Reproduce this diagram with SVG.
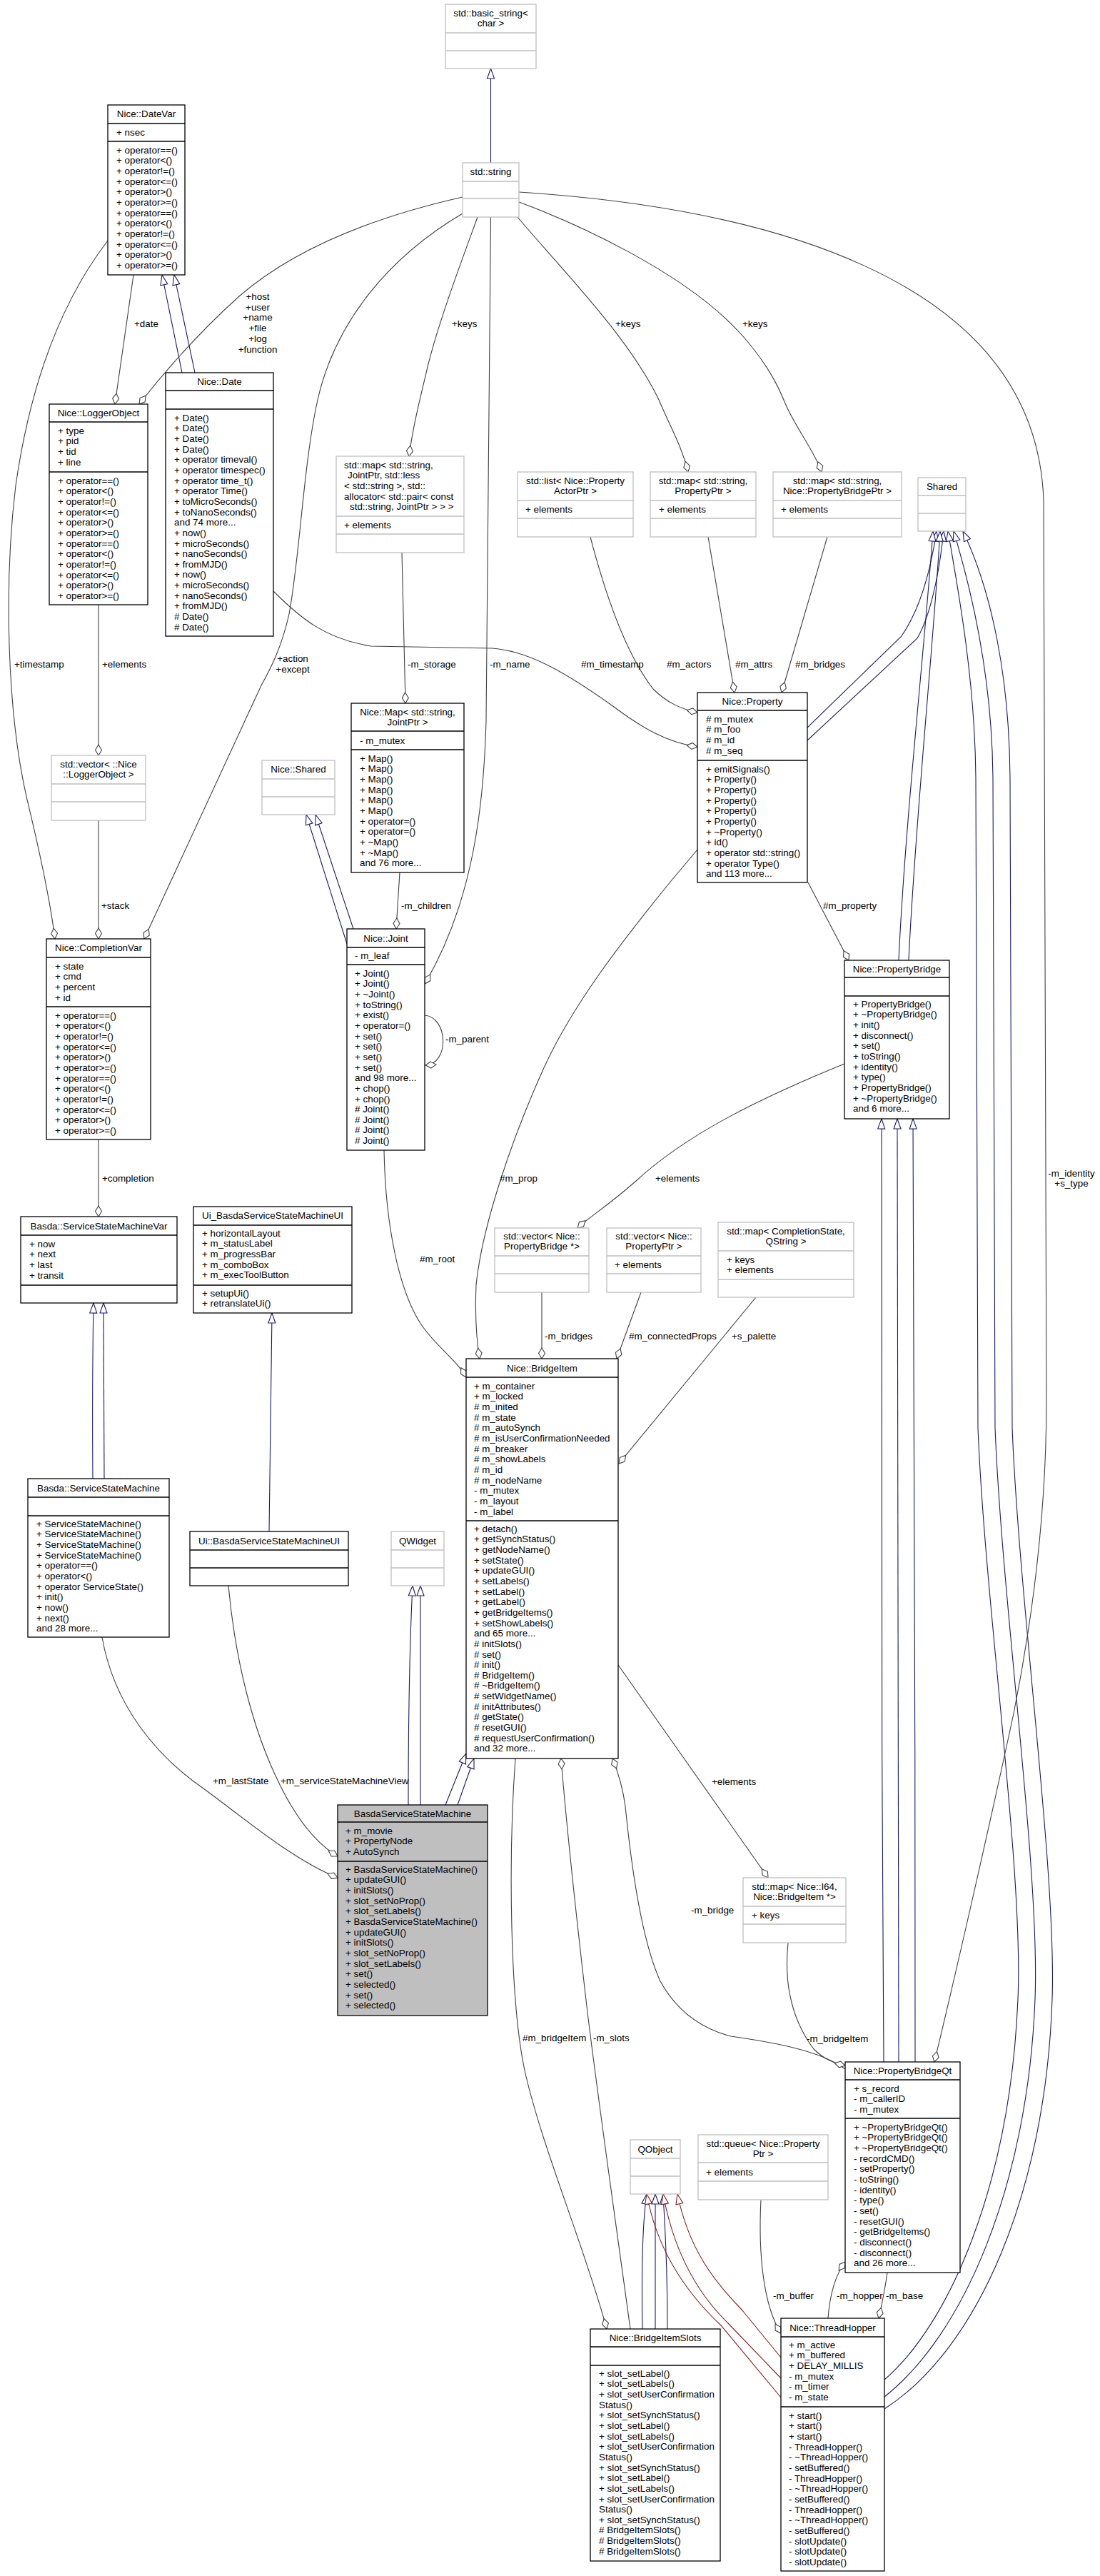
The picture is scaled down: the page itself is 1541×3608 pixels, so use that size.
<svg xmlns="http://www.w3.org/2000/svg" width="1541" height="3608" viewBox="0 0 1541 3608">
<defs>
<style>
text{font-family:"Liberation Sans",Arial,Helvetica,sans-serif;font-size:13.4px;fill:#000}
.c{text-anchor:middle}
.n rect{fill:#fff;stroke:#000;stroke-width:1.3}
.n line{stroke:#000;stroke-width:1.3}
.u rect{fill:#fff;stroke:#bfbfbf;stroke-width:1.3}
.u line{stroke:#bfbfbf;stroke-width:1.3}
.g rect{fill:#bfbfbf}
.e{fill:none;stroke:#404040;stroke-width:1.1;marker-end:url(#dm)}
.i{fill:none;stroke:#191970;stroke-width:1.1;marker-end:url(#tb)}
.p{fill:none;stroke:#8b1a1a;stroke-width:1.1;marker-end:url(#tr)}
</style>
<marker id="dm" markerUnits="userSpaceOnUse" markerWidth="17" markerHeight="11" viewBox="0 0 17 11" refX="16" refY="5.5" orient="auto"><path d="M1,5.5 L8.5,1 L16,5.5 L8.5,10 Z" fill="#fff" stroke="#404040" stroke-width="1.1"/></marker>
<marker id="tb" markerUnits="userSpaceOnUse" markerWidth="16" markerHeight="12" viewBox="0 0 16 12" refX="15" refY="6" orient="auto"><path d="M1,1 L15,6 L1,11 Z" fill="#fff" stroke="#191970" stroke-width="1.1"/></marker>
<marker id="tr" markerUnits="userSpaceOnUse" markerWidth="16" markerHeight="12" viewBox="0 0 16 12" refX="15" refY="6" orient="auto"><path d="M1,1 L15,6 L1,11 Z" fill="#fff" stroke="#8b1a1a" stroke-width="1.1"/></marker>
</defs>
<rect x="0" y="0" width="1541" height="3608" fill="#fff"/>
<g id="connectors">
<path class="i" d="M687.5,228 L687.5,96"/>
<path class="i" d="M255,522 L227,385"/>
<path class="i" d="M273,522 L244,385"/>
<path class="i" d="M486,1322 L429,1141"/>
<path class="i" d="M495,1301 L442,1141"/>
<path class="e" d="M187,385 L161,566"/>
<path class="e" d="M648,276 C520,305 410,350 335,415 C285,460 235,515 195,566"/>
<path class="e" d="M138,847 L138,1058"/>
<path class="e" d="M151,337 C95,410 45,520 22,680 C5,820 10,1000 38,1120 C55,1190 70,1260 77,1315"/>
<path class="e" d="M138,1149 L138,1315"/>
<path class="e" d="M648,299 C545,360 470,450 445,560 C425,650 420,780 405,860 C395,905 380,935 366,960 L202,1315"/>
<path class="e" d="M669,304 C645,370 615,450 600,510 C588,560 578,600 573,639"/>
<path class="e" d="M725,304 C780,370 880,470 923,560 C940,600 955,625 964,661"/>
<path class="e" d="M727,283 C800,310 960,380 1040,470 C1075,510 1090,540 1100,565 C1115,600 1140,630 1151,661"/>
<path class="e" d="M563,774 L568,985"/>
<path class="e" d="M687.5,304 L681,1010 C678,1120 665,1260 595,1378"/>
<path class="e" d="M560,1222 L555,1301"/>
<path class="e" d="M595,1422 C628,1425 630,1490 596,1492"/>
<path class="e" d="M383,828 C420,865 455,895 520,905 L690,908 C740,912 790,940 860,990 C900,1020 935,1040 977,1046"/>
<path class="e" d="M827,752 C850,840 880,920 915,965 C935,985 955,993 977,998"/>
<path class="e" d="M992,752 L1029,970"/>
<path class="e" d="M1159,752 L1095,970"/>
<path class="e" d="M1132,1236 L1189,1345"/>
<path class="i" d="M1131,1019 L1262,892 C1285,860 1302,810 1312,744"/>
<path class="i" d="M1131,1037 L1285,894 C1302,865 1315,810 1322,744"/>
<path class="i" d="M1259,1345 C1268,1150 1296,900 1307,744"/>
<path class="i" d="M1273,1345 C1282,1150 1308,900 1317,744"/>
<path class="i" d="M1239,3333 C1330,3255 1415,3060 1426,2800 C1434,2620 1380,2250 1370,2000 L1367,1090 C1366,960 1345,840 1328,744"/>
<path class="i" d="M1239,3357 C1350,3270 1440,3060 1450,2800 C1457,2620 1404,2250 1394,2000 L1391,1090 C1390,960 1365,840 1336,744"/>
<path class="i" d="M1239,3374 C1370,3290 1465,3070 1474,2800 C1480,2620 1428,2250 1418,2000 L1415,1090 C1414,950 1390,830 1349,744"/>
<path class="e" d="M727,269 C1050,290 1450,380 1462,700 L1466,1960 C1466,2100 1450,2250 1420,2400 C1390,2540 1340,2760 1309,2888"/>
<path class="e" d="M977,1190 L940,1234 C870,1320 800,1410 760,1500 C715,1600 675,1720 667,1800 C665,1850 668,1880 672,1903"/>
<path class="e" d="M1183,1490 C1060,1540 960,1590 890,1655 C850,1690 825,1705 809,1720"/>
<path class="e" d="M759,1810 L759,1903"/>
<path class="e" d="M898,1810 L864,1903"/>
<path class="e" d="M1059,1817 L867,2050"/>
<path class="e" d="M538,1611 C540,1720 560,1810 590,1855 C610,1885 640,1905 653,1929"/>
<path class="e" d="M138,1596 L138,1704"/>
<path class="i" d="M130,2071 C129,1950 130,1880 131,1825"/>
<path class="i" d="M146,2071 C146,1950 145,1880 145,1825"/>
<path class="i" d="M377,2145 L381,1839"/>
<path class="i" d="M572,2528 C572,2350 576,2260 578,2221"/>
<path class="i" d="M589,2528 L589,2221"/>
<path class="i" d="M624,2528 L653,2456"/>
<path class="i" d="M641,2528 L664,2463"/>
<path class="e" d="M320,2221 C330,2330 355,2420 385,2485 C410,2540 440,2580 473,2600"/>
<path class="e" d="M143,2293 C160,2390 220,2460 285,2505 C340,2545 410,2605 473,2630"/>
<path class="e" d="M866,2332 L1076,2630"/>
<path class="e" d="M1184,2898 C1150,2872 1080,2860 1024,2852 C985,2842 950,2820 925,2775 C900,2720 885,2620 876,2530 C872,2500 865,2480 858,2463"/>
<path class="e" d="M1104,2721 C1098,2780 1110,2830 1140,2870 C1155,2885 1170,2890 1184,2893"/>
<path class="i" d="M1238,2888 C1235,2400 1232,1700 1235,1567"/>
<path class="i" d="M1259,2888 L1257,1567"/>
<path class="i" d="M1282,2888 C1282,2400 1281,1700 1279,1567"/>
<path class="e" d="M722,2463 C712,2600 714,2800 735,2900 C760,3010 820,3150 850,3262"/>
<path class="e" d="M883,3262 C865,3130 835,2920 822,2810 C808,2690 793,2550 786,2463"/>
<path class="i" d="M900,3262 C898,3150 902,3100 906,3073"/>
<path class="i" d="M918,3262 L918,3073"/>
<path class="i" d="M935,3262 C935,3150 930,3100 929,3073"/>
<path class="p" d="M1094,3302 L1040,3236 C1000,3195 965,3150 949,3073"/>
<path class="p" d="M1094,3331 L1020,3254 C980,3215 945,3160 929,3073"/>
<path class="p" d="M1094,3358 L1010,3257 C960,3210 920,3150 906,3073"/>
<path class="e" d="M1066,3081 C1062,3160 1070,3230 1094,3268"/>
<path class="e" d="M1160,3247 C1162,3220 1168,3190 1184,3168"/>
<path class="e" d="M1243,3183 C1240,3205 1236,3225 1231,3247"/>
<text x="188" y="457.7">+date</text>
<text class="c" x="361" y="419.7">+host<tspan x="361" dy="14.8">+user</tspan><tspan x="361" dy="14.8">+name</tspan><tspan x="361" dy="14.8">+file</tspan><tspan x="361" dy="14.8">+log</tspan><tspan x="361" dy="14.8">+function</tspan></text>
<text x="633" y="457.7">+keys</text>
<text x="862" y="457.7">+keys</text>
<text x="1040" y="457.7">+keys</text>
<text x="20" y="934.7">+timestamp</text>
<text x="143" y="934.7">+elements</text>
<text class="c" x="410" y="927.2">+action<tspan x="410" dy="14.6">+except</tspan></text>
<text x="571" y="934.7">-m_storage</text>
<text x="686" y="934.7">-m_name</text>
<text x="814" y="934.7">#m_timestamp</text>
<text x="934" y="934.7">#m_actors</text>
<text x="1030" y="934.7">#m_attrs</text>
<text x="1114" y="934.7">#m_bridges</text>
<text x="142" y="1272.7">+stack</text>
<text x="562" y="1272.7">-m_children</text>
<text x="1153" y="1272.7">#m_property</text>
<text x="624" y="1459.7">-m_parent</text>
<text class="c" x="1501" y="1647.7">-m_identity<tspan x="1501" dy="14.6">+s_type</tspan></text>
<text x="143" y="1654.7">+completion</text>
<text x="700" y="1654.7">#m_prop</text>
<text x="918" y="1654.7">+elements</text>
<text x="588" y="1767.7">#m_root</text>
<text x="763" y="1875.7">-m_bridges</text>
<text x="881" y="1875.7">#m_connectedProps</text>
<text x="1025" y="1875.7">+s_palette</text>
<text x="298" y="2498.7">+m_lastState</text>
<text x="393" y="2498.7">+m_serviceStateMachineView</text>
<text x="997" y="2499.7">+elements</text>
<text x="968" y="2679.7">-m_bridge</text>
<text x="732" y="2858.7">#m_bridgeItem</text>
<text x="831" y="2858.7">-m_slots</text>
<text x="1130" y="2859.7">-m_bridgeItem</text>
<text x="1083" y="3219.7">-m_buffer</text>
<text x="1172" y="3219.7">-m_hopper</text>
<text x="1241" y="3219.7">-m_base</text>
</g>
<g id="nodes">
<g id="n_basic_string" class="u"><rect x="624" y="6" width="127" height="90"/><line x1="624" y1="46" x2="751" y2="46"/><line x1="624" y1="71" x2="751" y2="71"/><text class="c" x="687.5" y="22.7">std::basic_string&lt;<tspan x="687.5" dy="14.7">char &gt;</tspan></text></g>
<g id="n_string" class="u"><rect x="648" y="228" width="79" height="76"/><line x1="648" y1="254" x2="727" y2="254"/><line x1="648" y1="278" x2="727" y2="278"/><text class="c" x="687.5" y="245">std::string</text></g>
<g id="n_datevar" class="n"><rect x="151" y="147" width="108" height="238"/><line x1="151" y1="173" x2="259" y2="173"/><line x1="151" y1="198" x2="259" y2="198"/><text class="c" x="205" y="164">Nice::DateVar</text><text x="163" y="189.7">+ nsec</text><text x="163" y="214.7">+ operator==()<tspan x="163" dy="14.65">+ operator&lt;()</tspan><tspan x="163" dy="14.65">+ operator!=()</tspan><tspan x="163" dy="14.65">+ operator&lt;=()</tspan><tspan x="163" dy="14.65">+ operator&gt;()</tspan><tspan x="163" dy="14.65">+ operator&gt;=()</tspan><tspan x="163" dy="14.65">+ operator==()</tspan><tspan x="163" dy="14.65">+ operator&lt;()</tspan><tspan x="163" dy="14.65">+ operator!=()</tspan><tspan x="163" dy="14.65">+ operator&lt;=()</tspan><tspan x="163" dy="14.65">+ operator&gt;()</tspan><tspan x="163" dy="14.65">+ operator&gt;=()</tspan></text></g>
<g id="n_loggerobject" class="n"><rect x="69" y="566" width="138" height="281"/><line x1="69" y1="591" x2="207" y2="591"/><line x1="69" y1="661" x2="207" y2="661"/><text class="c" x="138" y="583">Nice::LoggerObject</text><text x="81" y="607.7">+ type<tspan x="81" dy="14.65">+ pid</tspan><tspan x="81" dy="14.65">+ tid</tspan><tspan x="81" dy="14.65">+ line</tspan></text><text x="81" y="677.7">+ operator==()<tspan x="81" dy="14.65">+ operator&lt;()</tspan><tspan x="81" dy="14.65">+ operator!=()</tspan><tspan x="81" dy="14.65">+ operator&lt;=()</tspan><tspan x="81" dy="14.65">+ operator&gt;()</tspan><tspan x="81" dy="14.65">+ operator&gt;=()</tspan><tspan x="81" dy="14.65">+ operator==()</tspan><tspan x="81" dy="14.65">+ operator&lt;()</tspan><tspan x="81" dy="14.65">+ operator!=()</tspan><tspan x="81" dy="14.65">+ operator&lt;=()</tspan><tspan x="81" dy="14.65">+ operator&gt;()</tspan><tspan x="81" dy="14.65">+ operator&gt;=()</tspan></text></g>
<g id="n_date" class="n"><rect x="232" y="522" width="151" height="369"/><line x1="232" y1="547" x2="383" y2="547"/><line x1="232" y1="573" x2="383" y2="573"/><text class="c" x="307.5" y="539">Nice::Date</text><text x="244" y="589.7">+ Date()<tspan x="244" dy="14.65">+ Date()</tspan><tspan x="244" dy="14.65">+ Date()</tspan><tspan x="244" dy="14.65">+ Date()</tspan><tspan x="244" dy="14.65">+ operator timeval()</tspan><tspan x="244" dy="14.65">+ operator timespec()</tspan><tspan x="244" dy="14.65">+ operator time_t()</tspan><tspan x="244" dy="14.65">+ operator Time()</tspan><tspan x="244" dy="14.65">+ toMicroSeconds()</tspan><tspan x="244" dy="14.65">+ toNanoSeconds()</tspan><tspan x="244" dy="14.65">and 74 more...</tspan><tspan x="244" dy="14.65">+ now()</tspan><tspan x="244" dy="14.65">+ microSeconds()</tspan><tspan x="244" dy="14.65">+ nanoSeconds()</tspan><tspan x="244" dy="14.65">+ fromMJD()</tspan><tspan x="244" dy="14.65">+ now()</tspan><tspan x="244" dy="14.65">+ microSeconds()</tspan><tspan x="244" dy="14.65">+ nanoSeconds()</tspan><tspan x="244" dy="14.65">+ fromMJD()</tspan><tspan x="244" dy="14.65"># Date()</tspan><tspan x="244" dy="14.65"># Date()</tspan></text></g>
<g id="n_map_joint" class="u"><rect x="471" y="639" width="179" height="135"/><line x1="471" y1="723" x2="650" y2="723"/><line x1="471" y1="748" x2="650" y2="748"/><text x="482" y="655.7">std::map&lt; std::string,</text><text x="487" y="670.4">JointPtr, std::less</text><text x="482" y="685">&lt; std::string &gt;, std::</text><text x="482" y="699.7">allocator&lt; std::pair&lt; const</text><text x="490" y="714.3">std::string, JointPtr &gt; &gt; &gt;</text><text x="482" y="739.7">+ elements</text></g>
<g id="n_list_actor" class="u"><rect x="725" y="661" width="162" height="91"/><line x1="725" y1="701" x2="887" y2="701"/><line x1="725" y1="726" x2="887" y2="726"/><text class="c" x="806" y="677.7">std::list&lt; Nice::Property<tspan x="806" dy="14.65">ActorPtr &gt;</tspan></text><text x="736" y="717.7">+ elements</text></g>
<g id="n_map_propptr" class="u"><rect x="911" y="661" width="148" height="91"/><line x1="911" y1="701" x2="1059" y2="701"/><line x1="911" y1="726" x2="1059" y2="726"/><text class="c" x="985" y="677.7">std::map&lt; std::string,<tspan x="985" dy="14.65">PropertyPtr &gt;</tspan></text><text x="923" y="717.7">+ elements</text></g>
<g id="n_map_pbptr" class="u"><rect x="1083" y="661" width="180" height="91"/><line x1="1083" y1="701" x2="1263" y2="701"/><line x1="1083" y1="726" x2="1263" y2="726"/><text class="c" x="1173" y="677.7">std::map&lt; std::string,<tspan x="1173" dy="14.65">Nice::PropertyBridgePtr &gt;</tspan></text><text x="1094" y="717.7">+ elements</text></g>
<g id="n_shared" class="u"><rect x="1286" y="669" width="67" height="75"/><line x1="1286" y1="694" x2="1353" y2="694"/><line x1="1286" y1="719" x2="1353" y2="719"/><text class="c" x="1319.5" y="686">Shared</text></g>
<g id="n_nice_map" class="n"><rect x="492" y="985" width="158" height="237"/><line x1="492" y1="1024" x2="650" y2="1024"/><line x1="492" y1="1050" x2="650" y2="1050"/><text class="c" x="571" y="1001.7">Nice::Map&lt; std::string,<tspan x="571" dy="14.65">JointPtr &gt;</tspan></text><text x="504" y="1041.7">- m_mutex</text><text x="504" y="1066.7">+ Map()<tspan x="504" dy="14.65">+ Map()</tspan><tspan x="504" dy="14.65">+ Map()</tspan><tspan x="504" dy="14.65">+ Map()</tspan><tspan x="504" dy="14.65">+ Map()</tspan><tspan x="504" dy="14.65">+ Map()</tspan><tspan x="504" dy="14.65">+ operator=()</tspan><tspan x="504" dy="14.65">+ operator=()</tspan><tspan x="504" dy="14.65">+ ~Map()</tspan><tspan x="504" dy="14.65">+ ~Map()</tspan><tspan x="504" dy="14.65">and 76 more...</tspan></text></g>
<g id="n_nice_shared" class="u"><rect x="367" y="1065" width="102" height="76"/><line x1="367" y1="1091" x2="469" y2="1091"/><line x1="367" y1="1116" x2="469" y2="1116"/><text class="c" x="418" y="1082">Nice::Shared</text></g>
<g id="n_property" class="n"><rect x="977" y="970" width="154" height="266"/><line x1="977" y1="995" x2="1131" y2="995"/><line x1="977" y1="1065" x2="1131" y2="1065"/><text class="c" x="1054" y="987">Nice::Property</text><text x="989" y="1011.7"># m_mutex<tspan x="989" dy="14.65"># m_foo</tspan><tspan x="989" dy="14.65"># m_id</tspan><tspan x="989" dy="14.65"># m_seq</tspan></text><text x="989" y="1081.7">+ emitSignals()<tspan x="989" dy="14.65">+ Property()</tspan><tspan x="989" dy="14.65">+ Property()</tspan><tspan x="989" dy="14.65">+ Property()</tspan><tspan x="989" dy="14.65">+ Property()</tspan><tspan x="989" dy="14.65">+ Property()</tspan><tspan x="989" dy="14.65">+ ~Property()</tspan><tspan x="989" dy="14.65">+ id()</tspan><tspan x="989" dy="14.65">+ operator std::string()</tspan><tspan x="989" dy="14.65">+ operator Type()</tspan><tspan x="989" dy="14.65">and 113 more...</tspan></text></g>
<g id="n_vec_logger" class="u"><rect x="72" y="1058" width="132" height="91"/><line x1="72" y1="1098" x2="204" y2="1098"/><line x1="72" y1="1123" x2="204" y2="1123"/><text class="c" x="138" y="1074.7">std::vector&lt; ::Nice<tspan x="138" dy="14.65">::LoggerObject &gt;</tspan></text></g>
<g id="n_joint" class="n"><rect x="486" y="1301" width="109" height="310"/><line x1="486" y1="1327" x2="595" y2="1327"/><line x1="486" y1="1351" x2="595" y2="1351"/><text class="c" x="540.5" y="1318.5">Nice::Joint</text><text x="497" y="1343">- m_leaf</text><text x="497" y="1367.7">+ Joint()<tspan x="497" dy="14.65">+ Joint()</tspan><tspan x="497" dy="14.65">+ ~Joint()</tspan><tspan x="497" dy="14.65">+ toString()</tspan><tspan x="497" dy="14.65">+ exist()</tspan><tspan x="497" dy="14.65">+ operator=()</tspan><tspan x="497" dy="14.65">+ set()</tspan><tspan x="497" dy="14.65">+ set()</tspan><tspan x="497" dy="14.65">+ set()</tspan><tspan x="497" dy="14.65">+ set()</tspan><tspan x="497" dy="14.65">and 98 more...</tspan><tspan x="497" dy="14.65">+ chop()</tspan><tspan x="497" dy="14.65">+ chop()</tspan><tspan x="497" dy="14.65"># Joint()</tspan><tspan x="497" dy="14.65"># Joint()</tspan><tspan x="497" dy="14.65"># Joint()</tspan><tspan x="497" dy="14.65"># Joint()</tspan></text></g>
<g id="n_completionvar" class="n"><rect x="65" y="1315" width="146" height="281"/><line x1="65" y1="1341" x2="211" y2="1341"/><line x1="65" y1="1410" x2="211" y2="1410"/><text class="c" x="138" y="1332">Nice::CompletionVar</text><text x="77" y="1357.7">+ state<tspan x="77" dy="14.65">+ cmd</tspan><tspan x="77" dy="14.65">+ percent</tspan><tspan x="77" dy="14.65">+ id</tspan></text><text x="77" y="1426.7">+ operator==()<tspan x="77" dy="14.65">+ operator&lt;()</tspan><tspan x="77" dy="14.65">+ operator!=()</tspan><tspan x="77" dy="14.65">+ operator&lt;=()</tspan><tspan x="77" dy="14.65">+ operator&gt;()</tspan><tspan x="77" dy="14.65">+ operator&gt;=()</tspan><tspan x="77" dy="14.65">+ operator==()</tspan><tspan x="77" dy="14.65">+ operator&lt;()</tspan><tspan x="77" dy="14.65">+ operator!=()</tspan><tspan x="77" dy="14.65">+ operator&lt;=()</tspan><tspan x="77" dy="14.65">+ operator&gt;()</tspan><tspan x="77" dy="14.65">+ operator&gt;=()</tspan></text></g>
<g id="n_propertybridge" class="n"><rect x="1183" y="1345" width="147" height="222"/><line x1="1183" y1="1369" x2="1330" y2="1369"/><line x1="1183" y1="1395" x2="1330" y2="1395"/><text class="c" x="1256.5" y="1361.5">Nice::PropertyBridge</text><text x="1195" y="1410.7">+ PropertyBridge()<tspan x="1195" dy="14.65">+ ~PropertyBridge()</tspan><tspan x="1195" dy="14.65">+ init()</tspan><tspan x="1195" dy="14.65">+ disconnect()</tspan><tspan x="1195" dy="14.65">+ set()</tspan><tspan x="1195" dy="14.65">+ toString()</tspan><tspan x="1195" dy="14.65">+ identity()</tspan><tspan x="1195" dy="14.65">+ type()</tspan><tspan x="1195" dy="14.65">+ PropertyBridge()</tspan><tspan x="1195" dy="14.65">+ ~PropertyBridge()</tspan><tspan x="1195" dy="14.65">and 6 more...</tspan></text></g>
<g id="n_ssmvar" class="n"><rect x="29" y="1704" width="219" height="121"/><line x1="29" y1="1730" x2="248" y2="1730"/><line x1="29" y1="1800" x2="248" y2="1800"/><text class="c" x="138.5" y="1721.7">Basda::ServiceStateMachineVar</text><text x="41" y="1746.7">+ now<tspan x="41" dy="14.65">+ next</tspan><tspan x="41" dy="14.65">+ last</tspan><tspan x="41" dy="14.65">+ transit</tspan></text></g>
<g id="n_ui_basda" class="n"><rect x="271" y="1690" width="222" height="149"/><line x1="271" y1="1716" x2="493" y2="1716"/><line x1="271" y1="1800" x2="493" y2="1800"/><text class="c" x="382" y="1707">Ui_BasdaServiceStateMachineUI</text><text x="283" y="1731.7">+ horizontalLayout<tspan x="283" dy="14.65">+ m_statusLabel</tspan><tspan x="283" dy="14.65">+ m_progressBar</tspan><tspan x="283" dy="14.65">+ m_comboBox</tspan><tspan x="283" dy="14.65">+ m_execToolButton</tspan></text><text x="283" y="1815.7">+ setupUi()<tspan x="283" dy="14.65">+ retranslateUi()</tspan></text></g>
<g id="n_vec_pb" class="u"><rect x="693" y="1720" width="132" height="90"/><line x1="693" y1="1759" x2="825" y2="1759"/><line x1="693" y1="1784" x2="825" y2="1784"/><text class="c" x="759" y="1735.7">std::vector&lt; Nice::<tspan x="759" dy="14.65">PropertyBridge *&gt;</tspan></text></g>
<g id="n_vec_pp" class="u"><rect x="850" y="1720" width="132" height="90"/><line x1="850" y1="1759" x2="982" y2="1759"/><line x1="850" y1="1784" x2="982" y2="1784"/><text class="c" x="916" y="1735.7">std::vector&lt; Nice::<tspan x="916" dy="14.65">PropertyPtr &gt;</tspan></text><text x="861" y="1775.7">+ elements</text></g>
<g id="n_map_cs" class="u"><rect x="1006" y="1712" width="190" height="105"/><line x1="1006" y1="1752" x2="1196" y2="1752"/><line x1="1006" y1="1792" x2="1196" y2="1792"/><text class="c" x="1101" y="1728.7">std::map&lt; CompletionState,<tspan x="1101" dy="14.65">QString &gt;</tspan></text><text x="1018" y="1768.7">+ keys<tspan x="1018" dy="14.65">+ elements</tspan></text></g>
<g id="n_bridgeitem" class="n"><rect x="653" y="1903" width="213" height="560"/><line x1="653" y1="1929" x2="866" y2="1929"/><line x1="653" y1="2130" x2="866" y2="2130"/><text class="c" x="759.5" y="1920.5">Nice::BridgeItem</text><text x="664" y="1945.7">+ m_container<tspan x="664" dy="14.65">+ m_locked</tspan><tspan x="664" dy="14.65"># m_inited</tspan><tspan x="664" dy="14.65"># m_state</tspan><tspan x="664" dy="14.65"># m_autoSynch</tspan><tspan x="664" dy="14.65"># m_isUserConfirmationNeeded</tspan><tspan x="664" dy="14.65"># m_breaker</tspan><tspan x="664" dy="14.65"># m_showLabels</tspan><tspan x="664" dy="14.65"># m_id</tspan><tspan x="664" dy="14.65"># m_nodeName</tspan><tspan x="664" dy="14.65">- m_mutex</tspan><tspan x="664" dy="14.65">- m_layout</tspan><tspan x="664" dy="14.65">- m_label</tspan></text><text x="664" y="2145.7">+ detach()<tspan x="664" dy="14.65">+ getSynchStatus()</tspan><tspan x="664" dy="14.65">+ getNodeName()</tspan><tspan x="664" dy="14.65">+ setState()</tspan><tspan x="664" dy="14.65">+ updateGUI()</tspan><tspan x="664" dy="14.65">+ setLabels()</tspan><tspan x="664" dy="14.65">+ setLabel()</tspan><tspan x="664" dy="14.65">+ getLabel()</tspan><tspan x="664" dy="14.65">+ getBridgeItems()</tspan><tspan x="664" dy="14.65">+ setShowLabels()</tspan><tspan x="664" dy="14.65">and 65 more...</tspan><tspan x="664" dy="14.65"># initSlots()</tspan><tspan x="664" dy="14.65"># set()</tspan><tspan x="664" dy="14.65"># init()</tspan><tspan x="664" dy="14.65"># BridgeItem()</tspan><tspan x="664" dy="14.65"># ~BridgeItem()</tspan><tspan x="664" dy="14.65"># setWidgetName()</tspan><tspan x="664" dy="14.65"># initAttributes()</tspan><tspan x="664" dy="14.65"># getState()</tspan><tspan x="664" dy="14.65"># resetGUI()</tspan><tspan x="664" dy="14.65"># requestUserConfirmation()</tspan><tspan x="664" dy="14.65">and 32 more...</tspan></text></g>
<g id="n_ssm" class="n"><rect x="39" y="2071" width="198" height="222"/><line x1="39" y1="2097" x2="237" y2="2097"/><line x1="39" y1="2123" x2="237" y2="2123"/><text class="c" x="138" y="2088.5">Basda::ServiceStateMachine</text><text x="51" y="2138.7">+ ServiceStateMachine()<tspan x="51" dy="14.65">+ ServiceStateMachine()</tspan><tspan x="51" dy="14.65">+ ServiceStateMachine()</tspan><tspan x="51" dy="14.65">+ ServiceStateMachine()</tspan><tspan x="51" dy="14.65">+ operator==()</tspan><tspan x="51" dy="14.65">+ operator&lt;()</tspan><tspan x="51" dy="14.65">+ operator ServiceState()</tspan><tspan x="51" dy="14.65">+ init()</tspan><tspan x="51" dy="14.65">+ now()</tspan><tspan x="51" dy="14.65">+ next()</tspan><tspan x="51" dy="14.65">and 28 more...</tspan></text></g>
<g id="n_ui_ns_basda" class="n"><rect x="266" y="2145" width="222" height="76"/><line x1="266" y1="2171" x2="488" y2="2171"/><line x1="266" y1="2196" x2="488" y2="2196"/><text class="c" x="377" y="2162.7">Ui::BasdaServiceStateMachineUI</text></g>
<g id="n_qwidget" class="u"><rect x="548" y="2145" width="74" height="76"/><line x1="548" y1="2171" x2="622" y2="2171"/><line x1="548" y1="2196" x2="622" y2="2196"/><text class="c" x="585" y="2162.7">QWidget</text></g>
<g id="n_bssm" class="n g"><rect x="473" y="2528" width="210" height="295"/><line x1="473" y1="2552" x2="683" y2="2552"/><line x1="473" y1="2607" x2="683" y2="2607"/><text class="c" x="578" y="2544.7">BasdaServiceStateMachine</text><text x="484" y="2568.7">+ m_movie<tspan x="484" dy="14.65">+ PropertyNode</tspan><tspan x="484" dy="14.65">+ AutoSynch</tspan></text><text x="484" y="2622.7">+ BasdaServiceStateMachine()<tspan x="484" dy="14.65">+ updateGUI()</tspan><tspan x="484" dy="14.65">+ initSlots()</tspan><tspan x="484" dy="14.65">+ slot_setNoProp()</tspan><tspan x="484" dy="14.65">+ slot_setLabels()</tspan><tspan x="484" dy="14.65">+ BasdaServiceStateMachine()</tspan><tspan x="484" dy="14.65">+ updateGUI()</tspan><tspan x="484" dy="14.65">+ initSlots()</tspan><tspan x="484" dy="14.65">+ slot_setNoProp()</tspan><tspan x="484" dy="14.65">+ slot_setLabels()</tspan><tspan x="484" dy="14.65">+ set()</tspan><tspan x="484" dy="14.65">+ selected()</tspan><tspan x="484" dy="14.65">+ set()</tspan><tspan x="484" dy="14.65">+ selected()</tspan></text></g>
<g id="n_map_i64" class="u"><rect x="1041" y="2630" width="144" height="91"/><line x1="1041" y1="2670" x2="1185" y2="2670"/><line x1="1041" y1="2695" x2="1185" y2="2695"/><text class="c" x="1113" y="2646.7">std::map&lt; Nice::I64,<tspan x="1113" dy="14.65">Nice::BridgeItem *&gt;</tspan></text><text x="1053" y="2686.7">+ keys</text></g>
<g id="n_propertybridgeqt" class="n"><rect x="1184" y="2888" width="161" height="295"/><line x1="1184" y1="2913" x2="1345" y2="2913"/><line x1="1184" y1="2967" x2="1345" y2="2967"/><text class="c" x="1264.5" y="2905">Nice::PropertyBridgeQt</text><text x="1196" y="2929.7">+ s_record<tspan x="1196" dy="14.65">- m_callerID</tspan><tspan x="1196" dy="14.65">- m_mutex</tspan></text><text x="1196" y="2983.7">+ ~PropertyBridgeQt()<tspan x="1196" dy="14.65">+ ~PropertyBridgeQt()</tspan><tspan x="1196" dy="14.65">+ ~PropertyBridgeQt()</tspan><tspan x="1196" dy="14.65">- recordCMD()</tspan><tspan x="1196" dy="14.65">- setProperty()</tspan><tspan x="1196" dy="14.65">- toString()</tspan><tspan x="1196" dy="14.65">- identity()</tspan><tspan x="1196" dy="14.65">- type()</tspan><tspan x="1196" dy="14.65">- set()</tspan><tspan x="1196" dy="14.65">- resetGUI()</tspan><tspan x="1196" dy="14.65">- getBridgeItems()</tspan><tspan x="1196" dy="14.65">- disconnect()</tspan><tspan x="1196" dy="14.65">- disconnect()</tspan><tspan x="1196" dy="14.65">and 26 more...</tspan></text></g>
<g id="n_qobject" class="u"><rect x="883" y="2997" width="70" height="76"/><line x1="883" y1="3023" x2="953" y2="3023"/><line x1="883" y1="3048" x2="953" y2="3048"/><text class="c" x="918" y="3014.7">QObject</text></g>
<g id="n_queue" class="u"><rect x="978" y="2990" width="182" height="91"/><line x1="978" y1="3029" x2="1160" y2="3029"/><line x1="978" y1="3055" x2="1160" y2="3055"/><text class="c" x="1069" y="3006.7">std::queue&lt; Nice::Property<tspan x="1069" dy="14.65">Ptr &gt;</tspan></text><text x="989" y="3046.7">+ elements</text></g>
<g id="n_bridgeitemslots" class="n"><rect x="827" y="3262" width="182" height="325"/><line x1="827" y1="3287" x2="1009" y2="3287"/><line x1="827" y1="3313" x2="1009" y2="3313"/><text class="c" x="918" y="3279">Nice::BridgeItemSlots</text><text x="839" y="3328.7">+ slot_setLabel()<tspan x="839" dy="14.65">+ slot_setLabels()</tspan><tspan x="839" dy="14.65">+ slot_setUserConfirmation</tspan><tspan x="839" dy="14.65">Status()</tspan><tspan x="839" dy="14.65">+ slot_setSynchStatus()</tspan><tspan x="839" dy="14.65">+ slot_setLabel()</tspan><tspan x="839" dy="14.65">+ slot_setLabels()</tspan><tspan x="839" dy="14.65">+ slot_setUserConfirmation</tspan><tspan x="839" dy="14.65">Status()</tspan><tspan x="839" dy="14.65">+ slot_setSynchStatus()</tspan><tspan x="839" dy="14.65">+ slot_setLabel()</tspan><tspan x="839" dy="14.65">+ slot_setLabels()</tspan><tspan x="839" dy="14.65">+ slot_setUserConfirmation</tspan><tspan x="839" dy="14.65">Status()</tspan><tspan x="839" dy="14.65">+ slot_setSynchStatus()</tspan><tspan x="839" dy="14.65"># BridgeItemSlots()</tspan><tspan x="839" dy="14.65"># BridgeItemSlots()</tspan><tspan x="839" dy="14.65"># BridgeItemSlots()</tspan></text></g>
<g id="n_threadhopper" class="n"><rect x="1094" y="3247" width="145" height="354"/><line x1="1094" y1="3273" x2="1239" y2="3273"/><line x1="1094" y1="3371" x2="1239" y2="3371"/><text class="c" x="1166.5" y="3264.7">Nice::ThreadHopper</text><text x="1105" y="3288.7">+ m_active<tspan x="1105" dy="14.65">+ m_buffered</tspan><tspan x="1105" dy="14.65">+ DELAY_MILLIS</tspan><tspan x="1105" dy="14.65">- m_mutex</tspan><tspan x="1105" dy="14.65">- m_timer</tspan><tspan x="1105" dy="14.65">- m_state</tspan></text><text x="1105" y="3387.7">+ start()<tspan x="1105" dy="14.65">+ start()</tspan><tspan x="1105" dy="14.65">+ start()</tspan><tspan x="1105" dy="14.65">- ThreadHopper()</tspan><tspan x="1105" dy="14.65">- ~ThreadHopper()</tspan><tspan x="1105" dy="14.65">- setBuffered()</tspan><tspan x="1105" dy="14.65">- ThreadHopper()</tspan><tspan x="1105" dy="14.65">- ~ThreadHopper()</tspan><tspan x="1105" dy="14.65">- setBuffered()</tspan><tspan x="1105" dy="14.65">- ThreadHopper()</tspan><tspan x="1105" dy="14.65">- ~ThreadHopper()</tspan><tspan x="1105" dy="14.65">- setBuffered()</tspan><tspan x="1105" dy="14.65">- slotUpdate()</tspan><tspan x="1105" dy="14.65">- slotUpdate()</tspan><tspan x="1105" dy="14.65">- slotUpdate()</tspan></text></g>
</g>
</svg>
